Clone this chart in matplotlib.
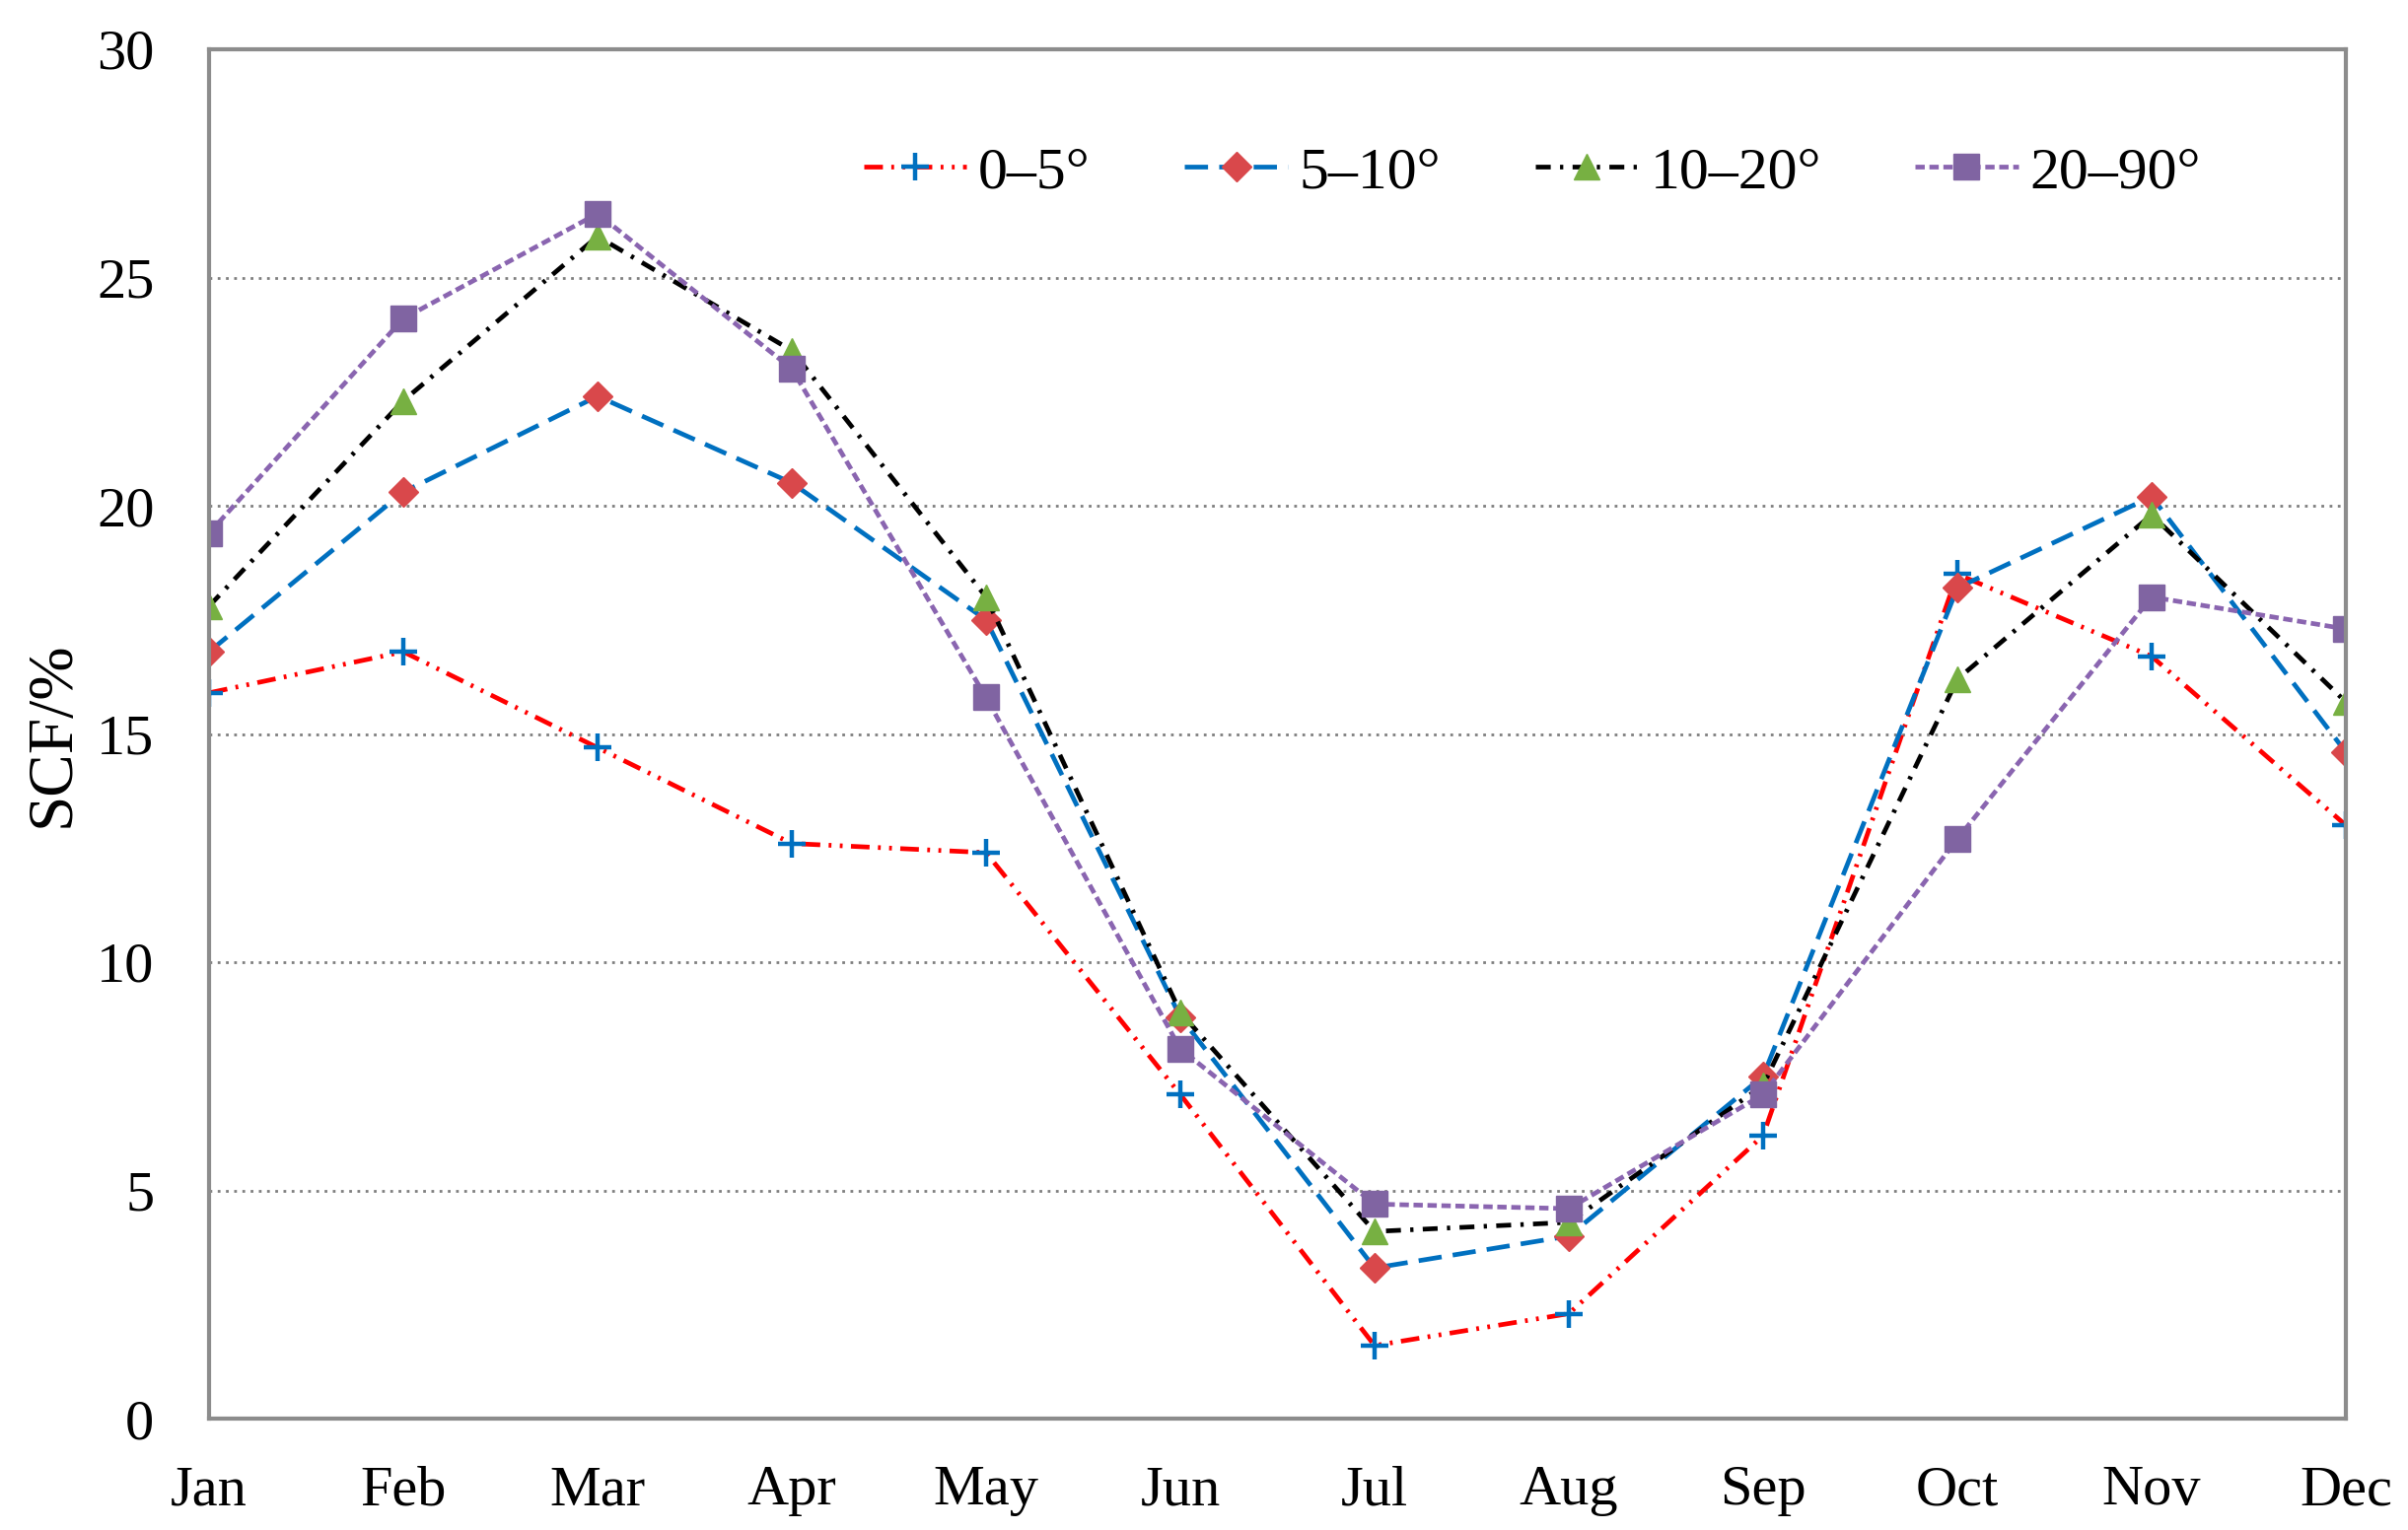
import numpy as np
import matplotlib
matplotlib.use("Agg")
from matplotlib import pyplot as plt

plt.rcParams['font.family'] = ['Liberation Serif', 'DejaVu Serif']

months = ['Jan', 'Feb', 'Mar', 'Apr', 'May', 'Jun', 'Jul', 'Aug', 'Sep', 'Oct', 'Nov', 'Dec']

# SCF (%) per slope class
scf_0_5 = [15.9, 16.8, 14.7, 12.6, 12.4, 7.1, 1.6, 2.3, 6.2, 18.5, 16.7, 13.0]
scf_5_10 = [16.8, 20.3, 22.4, 20.5, 17.5, 8.8, 3.3, 4.0, 7.5, 18.2, 20.2, 14.6]
scf_10_20 = [17.8, 22.3, 25.9, 23.4, 18.0, 8.9, 4.1, 4.3, 7.3, 16.2, 19.8, 15.7]
scf_20_90 = [19.4, 24.1, 26.4, 23.0, 15.8, 8.1, 4.7, 4.6, 7.1, 12.7, 18.0, 17.3]

labels = ['0\u20135\u00b0', '5\u201310\u00b0', '10\u201320\u00b0', '20\u201390\u00b0']

x = np.arange(len(months))

fig = plt.figure(figsize=(24.42, 15.52), dpi=100)
ax = fig.add_axes([212 / 2442, 1 - 1439 / 1552, (2379 - 212) / 2442, (1439 - 50) / 1552])

lw = 3.4
ax.plot(x, scf_0_5, color='#FF0000', lw=lw, ls=(0, (4, 1.8, 0.6, 1.8, 0.6, 1.8)),
        marker='+', ms=20, mew=3.2, mec='#0070C0', label=labels[0])
ax.plot(x, scf_5_10, color='#0070C0', lw=lw, ls=(0, (5, 2.4)),
        marker='D', ms=15, mfc='#D9484B', mec='#D9484B', label=labels[1])
ax.plot(x, scf_10_20, color='#000000', lw=lw, ls=(0, (3.2, 2, 0.7, 2)),
        marker='^', ms=19, mfc='#77B042', mec='#77B042', label=labels[2])
ax.plot(x, scf_20_90, color='#8A65B0', lw=lw, ls=(0, (2, 1)),
        marker='s', ms=19, mfc='#8064A2', mec='#8064A2', label=labels[3])

ax.set_xlim(0, 11)
ax.set_ylim(0, 30)
ax.set_xticks(x)
ax.set_xticklabels(months)
ax.set_yticks(np.arange(0, 31, 5))
ax.tick_params(axis='both', length=0, labelsize=42)
ax.tick_params(axis='x', pad=34)
ax.tick_params(axis='y', pad=40)
ax.yaxis.grid(True, ls=(0, (1, 2)), color='#7F7F7F', lw=2)
ax.set_axisbelow(True)
for s in ax.spines.values():
    s.set_color('#8C8C8C')
    s.set_linewidth(3)

ax.set_ylabel('SCF/%', fontsize=47, labelpad=10)

ax.legend(loc='upper right', bbox_to_anchor=(0.957, 0.968), ncol=4, frameon=False,
          fontsize=43, handlelength=1.75, columnspacing=1.6, handletextpad=0.2)

fig.savefig('out.png', dpi=100)
